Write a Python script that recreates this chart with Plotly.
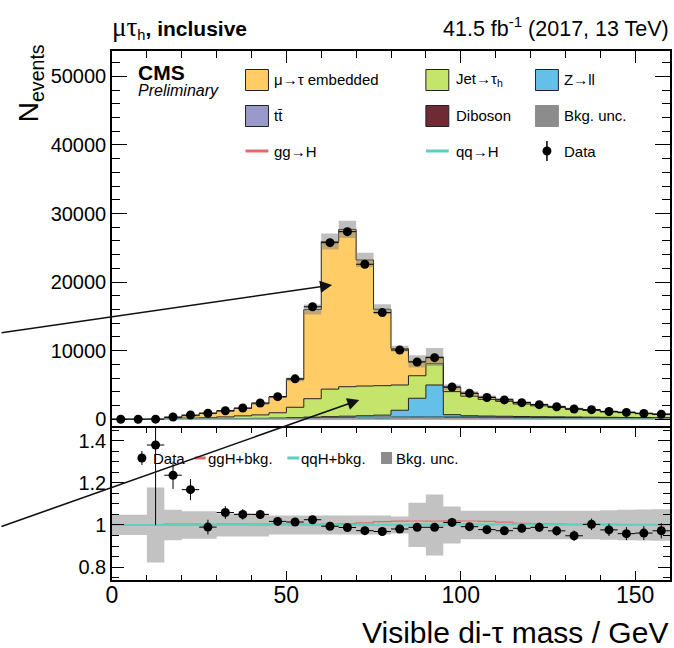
import plotly.graph_objects as go

# ---- binning (visible di-tau mass, GeV) ----
bin_edges = [0, 5, 10, 15, 20, 25, 30, 35, 40, 45, 50, 55, 60, 65, 70, 75, 80,
             85, 90, 95, 100, 105, 110, 115, 120, 125, 130, 135, 140, 145, 150, 155, 160]

# ---- observed events per bin ----
data_counts = [0, 0, 14, 330, 620, 880, 1250, 1650, 2380, 3300, 5900, 16400, 25750,
               27350, 22600, 15550, 10100, 8350, 8980, 4710, 3790, 3180, 2830, 2420,
               2130, 1820, 1500, 1400, 1130, 1000, 850, 740]

# ---- background components per bin ----
emb = [2, 2, 2.15, 153, 359, 666, 833, 1071, 1627, 2295, 4068, 13000, 21505, 22930,
       18377, 11147, 5296, 2093, 980, 624, 450, 350, 290, 230, 190, 160, 130, 110,
       90, 80, 65, 55]
jet_fakes = [8, 12, 5, 90, 130, 160, 260, 390, 500, 775, 1515, 2685, 4015, 4300,
             4335, 4295, 3683, 3286, 3100, 3355, 2851, 2430, 2179, 1821, 1584, 1355,
             1118, 976, 780, 695, 569, 474]
zll = [3, 4, 2, 15, 25, 35, 45, 55, 65, 80, 100, 130, 160, 190, 230, 300, 1000, 2740,
       4675, 350, 200, 160, 140, 120, 105, 95, 85, 75, 65, 60, 55, 50]
ttbar = [1, 1, 0.5, 6, 12, 20, 30, 40, 55, 70, 100, 140, 170, 200, 220, 235, 245, 250,
         250, 250, 245, 240, 230, 220, 210, 200, 190, 180, 170, 160, 150, 140]
diboson = [1, 1, 0.5, 3, 5, 8, 12, 15, 20, 25, 35, 45, 55, 60, 65, 70, 72, 74, 75, 75,
           75, 72, 70, 68, 65, 62, 58, 55, 52, 48, 45, 42]

# relative background uncertainty per bin
bkg_rel_unc = [0.048, 0.048, 0.178, 0.072, 0.065, 0.065, 0.055, 0.055, 0.055, 0.045,
               0.045, 0.045, 0.045, 0.045, 0.045, 0.045, 0.04, 0.105, 0.145, 0.088,
               0.068, 0.068, 0.068, 0.068, 0.068, 0.068, 0.068, 0.068, 0.07, 0.072,
               0.074, 0.075]

# ---- signal expectations per bin ----
ggh = [0, 0, 0, 1, 2, 3, 5, 7, 10, 15, 25, 45, 100, 160, 230, 250, 190, 160, 170, 90,
       72, 55, 40, 20, 12, 8, 5, 4, 3, 2, 2, 1]
qqh = [0, 0, 0, 0, 0, 0, 1, 1, 1, 2, 3, 4, 6, 8, 10, 12, 14, 15, 15, 13, 11, 9, 7, 5,
       4, 3, 2, 2, 1, 1, 1, 1]

# uncertainty on data/bkg ratio
ratio_err = [0, 0, 0.38, 0.065, 0.05, 0.035, 0.03, 0.025, 0.02, 0.018, 0.014, 0.008,
             0.006, 0.006, 0.007, 0.008, 0.01, 0.011, 0.011, 0.015, 0.016, 0.018,
             0.019, 0.02, 0.022, 0.023, 0.025, 0.027, 0.029, 0.031, 0.033, 0.036]

# ---- colours ----
C_EMB = "#ffcc66"
C_JET = "#c4e46c"
C_ZLL = "#64c0e8"
C_TT = "#9999cc"
C_VV = "#6f2a34"
C_GGH = "#e06a6a"
C_QQH = "#5fcfbf"
FONT = "Liberation Sans"

# ---- derived quantities ----
n = len(data_counts)
centers = [(bin_edges[i] + bin_edges[i + 1]) / 2 for i in range(n)]
half_w = [(bin_edges[i + 1] - bin_edges[i]) / 2 for i in range(n)]
total = [emb[i] + jet_fakes[i] + zll[i] + ttbar[i] + diboson[i] for i in range(n)]
ratio = [data_counts[i] / total[i] for i in range(n)]


def step(vals):
    """values per bin -> y for an 'hv' line over bin_edges"""
    return list(vals) + [vals[-1]]


fig = go.Figure()

# stacked backgrounds (bottom to top)
for vals, col in [(diboson, C_VV), (ttbar, C_TT), (zll, C_ZLL),
                  (jet_fakes, C_JET), (emb, C_EMB)]:
    fig.add_trace(go.Scatter(
        x=bin_edges, y=step(vals), stackgroup="bkg", mode="lines",
        line=dict(shape="hv", color="#222222", width=1), fillcolor=col,
        showlegend=False, hoverinfo="skip", xaxis="x", yaxis="y"))

# background uncertainty band
lo = [total[i] * (1 - bkg_rel_unc[i]) for i in range(n)]
hi = [total[i] * (1 + bkg_rel_unc[i]) for i in range(n)]
fig.add_trace(go.Scatter(x=bin_edges, y=step(lo), mode="lines",
                         line=dict(shape="hv", width=0), showlegend=False,
                         hoverinfo="skip", xaxis="x", yaxis="y"))
fig.add_trace(go.Scatter(x=bin_edges, y=step(hi), mode="lines", fill="tonexty",
                         fillcolor="rgba(128,128,128,0.5)",
                         line=dict(shape="hv", width=0), showlegend=False,
                         hoverinfo="skip", xaxis="x", yaxis="y"))

# signal shapes
fig.add_trace(go.Scatter(x=bin_edges, y=step(ggh), mode="lines",
                         line=dict(shape="hv", color=C_GGH, width=1.5),
                         showlegend=False, xaxis="x", yaxis="y"))
fig.add_trace(go.Scatter(x=bin_edges, y=step(qqh), mode="lines",
                         line=dict(shape="hv", color=C_QQH, width=1.5),
                         showlegend=False, xaxis="x", yaxis="y"))

# data
fig.add_trace(go.Scatter(
    x=centers, y=data_counts, mode="markers",
    marker=dict(color="black", size=9),
    error_x=dict(type="data", array=half_w, width=0, thickness=1, color="black"),
    showlegend=False, xaxis="x", yaxis="y"))

# ---- ratio panel ----
r_lo = [1 - u for u in bkg_rel_unc]
r_hi = [1 + u for u in bkg_rel_unc]
fig.add_trace(go.Scatter(x=bin_edges, y=step(r_lo), mode="lines",
                         line=dict(shape="hv", width=0), showlegend=False,
                         hoverinfo="skip", xaxis="x2", yaxis="y2"))
fig.add_trace(go.Scatter(x=bin_edges, y=step(r_hi), mode="lines", fill="tonexty",
                         fillcolor="#c2c2c2", line=dict(shape="hv", width=0),
                         showlegend=False, hoverinfo="skip", xaxis="x2", yaxis="y2"))
r_ggh = [(total[i] + ggh[i]) / total[i] for i in range(n)]
r_qqh = [(total[i] + qqh[i]) / total[i] for i in range(n)]
fig.add_trace(go.Scatter(x=bin_edges, y=step(r_ggh), mode="lines",
                         line=dict(shape="hv", color=C_GGH, width=1.2),
                         showlegend=False, xaxis="x2", yaxis="y2"))
fig.add_trace(go.Scatter(x=bin_edges, y=step(r_qqh), mode="lines",
                         line=dict(shape="hv", color=C_QQH, width=2),
                         showlegend=False, xaxis="x2", yaxis="y2"))
fig.add_trace(go.Scatter(
    x=centers, y=ratio, mode="markers", marker=dict(color="black", size=9),
    error_x=dict(type="data", array=half_w, width=0, thickness=1, color="black"),
    error_y=dict(type="data", array=ratio_err, width=0, thickness=1, color="black"),
    showlegend=False, xaxis="x2", yaxis="y2"))

# ---- page geometry ----
W, H = 674, 648
ML, MR, MT, MB = 112, 2, 51, 68
PW, PH = W - ML - MR, H - MT - MB
SPLIT = 428  # pixel row where the two panels meet


def px_x(p):
    return (p - ML) / PW


def px_y(p):
    return (H - MB - p) / PH


axis_common = dict(showline=True, linecolor="black", linewidth=1.5,
                   ticks="inside", tickcolor="black", showgrid=False, zeroline=False,
                   tickfont=dict(family=FONT, size=20, color="black"))

fig.update_layout(
    width=W, height=H, margin=dict(l=ML, r=MR, t=MT, b=MB),
    paper_bgcolor="white", plot_bgcolor="white", showlegend=False,
    # main-panel x axis lives on the top edge; the ratio frame closes the bottom
    xaxis=dict(axis_common, domain=[0, 1], anchor="y", side="top", mirror=False,
               range=[0, 160], tick0=0, dtick=50, ticklen=12, showticklabels=False,
               minor=dict(dtick=10, ticklen=7, ticks="inside", tickcolor="black")),
    yaxis=dict(axis_common, domain=[px_y(SPLIT), 1], anchor="x", mirror="allticks",
               range=[-1270, 53690], tick0=0, dtick=10000, ticklen=15, tickformat="d",
               minor=dict(dtick=2000, ticklen=8, ticks="inside", tickcolor="black")),
    xaxis2=dict(axis_common, domain=[0, 1], anchor="y2", mirror="allticks",
                range=[0, 160], matches="x", tick0=0, dtick=50, ticklen=9,
                ticklabelstandoff=-6,
                tickfont=dict(family=FONT, size=23, color="black"),
                minor=dict(dtick=10, ticklen=5, ticks="inside", tickcolor="black")),
    yaxis2=dict(axis_common, domain=[0, px_y(SPLIT)], anchor="x2", mirror="allticks",
                range=[0.739, 1.46], tick0=0.8, dtick=0.2, ticklen=12,
                minor=dict(dtick=0.05, tick0=0.8, ticklen=7, ticks="inside",
                           tickcolor="black")),
)

ann = []
shapes = []


def text(px, py, s, size=15, anchor="left", **kw):
    ann.append(dict(xref="paper", yref="paper", x=px_x(px), y=px_y(py), text=s,
                    showarrow=False, xanchor=anchor, yanchor="middle",
                    font=dict(family=FONT, size=size, color="black"), **kw))


# header
text(110, 27, "<span style='font-family:Liberation Serif;font-size:27px'>μτ</span>"
     "<sub>h</sub><b>, inclusive</b>", size=21)
text(673, 27, "41.5 fb<sup>-1</sup> (2017, 13 TeV)", size=21.5, anchor="right")
text(136, 72, "<b>CMS</b>", size=21)
text(136, 90, "<i>Preliminary</i>", size=16)

# axis titles
text(672, 632, "Visible di-τ mass / GeV", size=30, anchor="right")
ann.append(dict(xref="paper", yref="paper", x=px_x(30), y=px_y(83),
                text="N<sub>events</sub>", showarrow=False, textangle=-90,
                xanchor="center", yanchor="middle",
                font=dict(family=FONT, size=28, color="black")))

# main legend
rows = [80, 116, 151]
cols = [(246, 273), (427, 455), (537, 564)]


def box(col, row, color, border=True):
    x0, _ = cols[col]
    y = rows[row]
    shapes.append(dict(type="rect", xref="paper", yref="paper",
                       x0=px_x(x0), x1=px_x(x0 + 23), y0=px_y(y + 10.5), y1=px_y(y - 10.5),
                       fillcolor=color,
                       line=dict(color="#222222" if border else color, width=1)))


def leg_line(col, row, color):
    x0, _ = cols[col]
    y = rows[row]
    shapes.append(dict(type="line", xref="paper", yref="paper",
                       x0=px_x(x0), x1=px_x(x0 + 23), y0=px_y(y), y1=px_y(y),
                       line=dict(color=color, width=3)))


entries = [
    (0, 0, "box", C_EMB, "μ→τ embedded"),
    (1, 0, "box", C_JET, "Jet→τ<sub>h</sub>"),
    (2, 0, "box", C_ZLL, "Z→ll"),
    (0, 1, "box", C_TT, "tt\u0304"),
    (1, 1, "box", C_VV, "Diboson"),
    (2, 1, "unc", "#8c8c8c", "Bkg. unc."),
    (0, 2, "line", C_GGH, "gg→H"),
    (1, 2, "line", C_QQH, "qq→H"),
    (2, 2, "data", "black", "Data"),
]
for c, r, kind, color, label in entries:
    if kind == "box":
        box(c, r, color)
    elif kind == "unc":
        box(c, r, color, border=False)
    elif kind == "line":
        leg_line(c, r, color)
    else:
        xc = cols[c][0] + 11.5
        yc = rows[r]
        shapes.append(dict(type="line", xref="paper", yref="paper",
                           x0=px_x(xc), x1=px_x(xc), y0=px_y(yc - 10), y1=px_y(yc + 10),
                           line=dict(color="black", width=1.5)))
        shapes.append(dict(type="circle", xref="paper", yref="paper",
                           x0=px_x(xc - 4.5), x1=px_x(xc + 4.5),
                           y0=px_y(yc + 4.5), y1=px_y(yc - 4.5),
                           fillcolor="black", line=dict(color="black", width=0)))
    text(cols[c][1], rows[r], label, size=15)

# ratio legend
ry = 458
shapes.append(dict(type="circle", xref="paper", yref="paper",
                   x0=px_x(137.5), x1=px_x(146.5), y0=px_y(ry + 4.5), y1=px_y(ry - 4.5),
                   fillcolor="black", line=dict(width=0)))
shapes.append(dict(type="line", xref="paper", yref="paper",
                   x0=px_x(142), x1=px_x(142), y0=px_y(ry + 7), y1=px_y(ry - 7),
                   line=dict(color="black", width=1)))
text(151, ry, "Data", size=15)
shapes.append(dict(type="line", xref="paper", yref="paper",
                   x0=px_x(195), x1=px_x(206), y0=px_y(ry), y1=px_y(ry),
                   line=dict(color=C_GGH, width=3)))
text(206, ry, "ggH+bkg.", size=15)
shapes.append(dict(type="line", xref="paper", yref="paper",
                   x0=px_x(288), x1=px_x(300), y0=px_y(ry), y1=px_y(ry),
                   line=dict(color=C_QQH, width=3)))
text(300, ry, "qqH+bkg.", size=15)
shapes.append(dict(type="rect", xref="paper", yref="paper",
                   x0=px_x(382), x1=px_x(393), y0=px_y(ry + 6), y1=px_y(ry - 6),
                   fillcolor="#8c8c8c", line=dict(width=0)))
text(395, ry, "Bkg. unc.", size=15)

# arrows pointing at the embedded and jet->tau_h contributions
for hx, hy, ax, ay in [(63.1, 19580, -333, 48), (70.9, 2810, -360, 127)]:
    ann.append(dict(xref="x", yref="y", x=hx, y=hy, ax=ax, ay=ay, text="",
                    showarrow=True, arrowhead=2, arrowsize=1.5, arrowwidth=1.6,
                    arrowcolor="#111111", standoff=0))

fig.update_layout(annotations=ann, shapes=shapes)
fig.write_html("out.html")
